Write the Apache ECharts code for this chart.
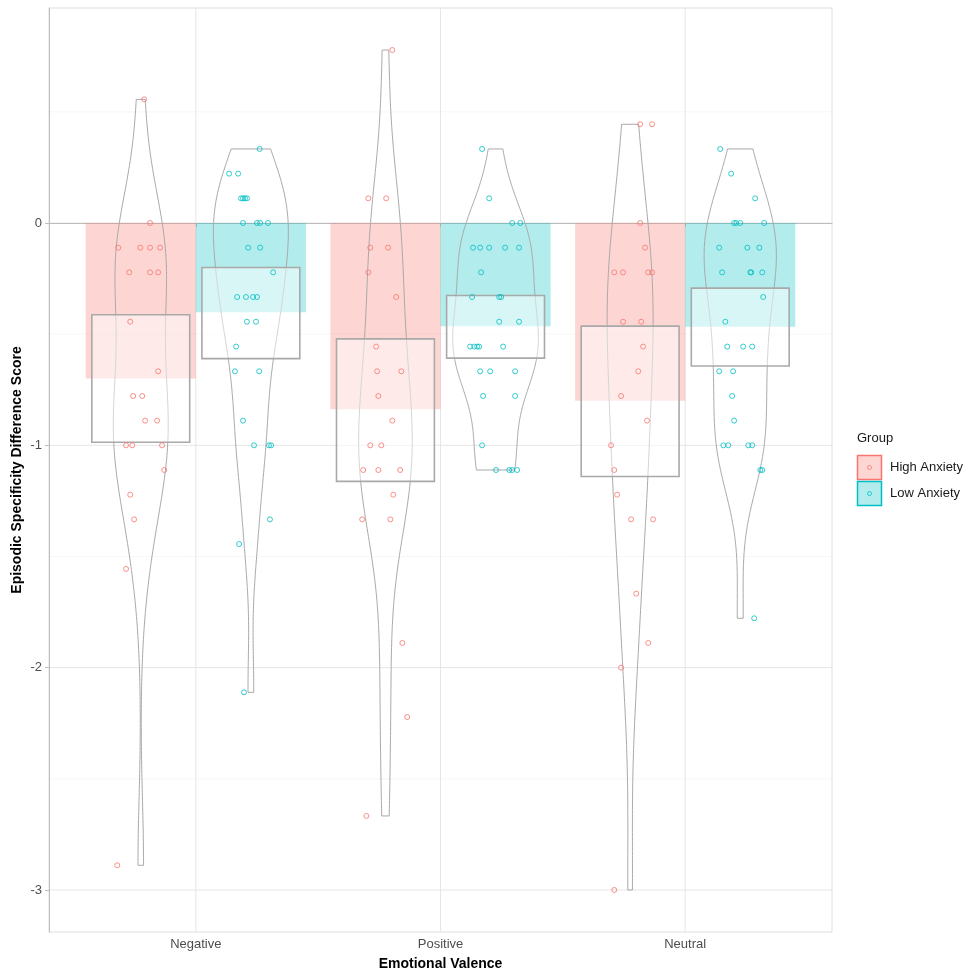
<!DOCTYPE html>
<html>
<head>
<meta charset="utf-8">
<script src="https://cdn.jsdelivr.net/npm/echarts@6/dist/echarts.min.js"></script>
<style>
html, body { margin: 0; padding: 0; background: #fff; }
#main { width: 969px; height: 970px; }
</style>
</head>
<body>
<div id="main"></div>
<script>
// valence categories and groups
var categories = ['Negative', 'Positive', 'Neutral'];
var groups = ['High Anxiety', 'Low Anxiety'];
var yTicks = [-3, -2, -1, 0];
var yMinor = [-2.5, -1.5, -0.5, 0.5];

// raw scores per cell (jitter = horizontal offset, in category units)
var negHighVals = [0.556, 0, -0.111, -0.111, -0.111, -0.111, -0.222, -0.222, -0.222, -0.444, -0.667, -0.778, -0.778, -0.889, -0.889, -1, -1, -1, -1.111, -1.222, -1.333, -1.556, -2.889];
var negHighJit = [0.014, 0.038, -0.092, -0.002, 0.038, 0.079, -0.047, 0.038, 0.071, -0.043, 0.071, -0.031, 0.006, 0.018, 0.067, -0.060, -0.035, 0.087, 0.096, -0.043, -0.027, -0.060, -0.096];

var negLowVals = [0.333, 0.222, 0.222, 0.111, 0.111, 0.111, 0.111, 0, 0, 0, 0, -0.111, -0.111, -0.222, -0.333, -0.333, -0.333, -0.333, -0.444, -0.444, -0.556, -0.667, -0.667, -0.889, -1, -1, -1, -1.333, -1.444, -2.111];
var negLowJit = [0.036, -0.089, -0.052, -0.040, -0.032, -0.024, -0.016, -0.032, 0.025, 0.038, 0.070, -0.011, 0.038, 0.091, -0.056, -0.020, 0.009, 0.025, -0.016, 0.021, -0.060, -0.065, 0.034, -0.032, 0.013, 0.074, 0.083, 0.078, -0.048, -0.028];

var posHighVals = [0.778, 0.111, 0.111, -0.111, -0.111, -0.222, -0.333, -0.556, -0.667, -0.667, -0.778, -0.889, -1, -1, -1.111, -1.111, -1.111, -1.222, -1.333, -1.333, -1.889, -2.222, -2.667];
var posHighJit = [0.028, -0.070, 0.003, -0.062, 0.011, -0.070, 0.044, -0.038, -0.034, 0.065, -0.029, 0.028, -0.062, -0.017, -0.091, -0.029, 0.060, 0.032, -0.095, 0.020, 0.069, 0.089, -0.078];

var posLowVals = [0.333, 0.111, 0, 0, -0.111, -0.111, -0.111, -0.111, -0.111, -0.222, -0.333, -0.333, -0.333, -0.444, -0.444, -0.556, -0.556, -0.556, -0.556, -0.556, -0.667, -0.667, -0.667, -0.778, -0.778, -1, -1.111, -1.111, -1.111, -1.111];
var posLowJit = [-0.055, -0.026, 0.068, 0.101, -0.092, -0.063, -0.026, 0.039, 0.096, -0.059, -0.096, 0.015, 0.023, 0.015, 0.096, -0.104, -0.087, -0.075, -0.067, 0.031, -0.063, -0.022, 0.080, -0.051, 0.080, -0.055, 0.002, 0.056, 0.068, 0.088];

var neuHighVals = [0.444, 0.444, 0, -0.111, -0.222, -0.222, -0.222, -0.222, -0.444, -0.444, -0.556, -0.667, -0.778, -0.889, -1, -1.111, -1.222, -1.333, -1.333, -1.667, -1.889, -2, -3];
var neuHighJit = [0.041, 0.090, 0.041, 0.061, -0.065, -0.029, 0.074, 0.090, -0.029, 0.045, 0.053, 0.033, -0.037, 0.069, -0.078, -0.065, -0.053, 0.004, 0.094, 0.025, 0.074, -0.037, -0.065];

var neuLowVals = [0.333, 0.222, 0.111, 0, 0, 0, 0, -0.111, -0.111, -0.111, -0.222, -0.222, -0.222, -0.222, -0.333, -0.444, -0.556, -0.556, -0.556, -0.667, -0.667, -0.778, -0.889, -1, -1, -1, -1, -1.111, -1.111, -1.778];
var neuLowJit = [-0.082, -0.037, 0.061, -0.025, -0.016, 0.0, 0.098, -0.086, 0.029, 0.078, -0.074, 0.041, 0.045, 0.090, 0.094, -0.061, -0.053, 0.012, 0.049, -0.086, -0.029, -0.033, -0.025, -0.069, -0.049, 0.033, 0.049, 0.082, 0.090, 0.057];

// cell order: NegHigh, NegLow, PosHigh, PosLow, NeuHigh, NeuLow
var barMeans = [-0.70, -0.402, -0.838, -0.464, -0.80, -0.467];
var ciHigh = [-0.413, -0.200, -0.521, -0.326, -0.464, -0.293];
var ciLow = [-0.986, -0.610, -1.162, -0.608, -1.140, -0.643];

var cellVals = [negHighVals, negLowVals, posHighVals, posLowVals, neuHighVals, neuLowVals];
var cellJit = [negHighJit, negLowJit, posHighJit, posLowJit, neuHighJit, neuLowJit];

var red = '#F8766D', cyan = '#00BFC4';
var fills = ['rgba(248,118,109,0.3)', 'rgba(0,191,196,0.3)'];
var lineGrey = '#a9a9a9';

function cellCenter(i) {
    return Math.floor(i / 2) + 1 + (i % 2 === 0 ? -0.225 : 0.225);
}

// gaussian kde like R density() with bw.nrd0, trimmed to data range
function quantile(s, p) {
    var h = (s.length - 1) * p, lo = Math.floor(h);
    return s[lo] + (h - lo) * ((s[Math.min(lo + 1, s.length - 1)]) - s[lo]);
}
function bwNrd0(v) {
    var n = v.length, m = 0, i;
    for (i = 0; i < n; i++) m += v[i];
    m /= n;
    var ss = 0;
    for (i = 0; i < n; i++) ss += (v[i] - m) * (v[i] - m);
    var sd = Math.sqrt(ss / (n - 1));
    var s = v.slice().sort(function (a, b) { return a - b; });
    var iqr = quantile(s, 0.75) - quantile(s, 0.25);
    var lo = Math.min(sd, iqr / 1.34);
    if (!(lo > 0)) lo = sd || 1;
    return 0.9 * lo * Math.pow(n, -0.2);
}
var violins = [];
var maxDens = 0;
cellVals.forEach(function (v) {
    var bw = bwNrd0(v);
    var lo = Math.min.apply(null, v), hi = Math.max.apply(null, v);
    var pts = [];
    for (var k = 0; k <= 200; k++) {
        var y = lo + (hi - lo) * k / 200;
        var d = 0;
        for (var j = 0; j < v.length; j++) {
            var z = (y - v[j]) / bw;
            d += Math.exp(-0.5 * z * z);
        }
        d = d / (v.length * bw * Math.sqrt(2 * Math.PI));
        if (d > maxDens) maxDens = d;
        pts.push([y, d]);
    }
    violins.push(pts);
});

var myChart = echarts.init(document.getElementById('main'));

var barData = [], boxData = [], violinData = [];
for (var i = 0; i < 6; i++) {
    barData.push([i, barMeans[i]]);
    boxData.push([i, ciLow[i], ciHigh[i]]);
    violinData.push([i]);
}
var pointData = [[], []];
cellVals.forEach(function (v, i) {
    v.forEach(function (val, j) {
        pointData[i % 2].push([cellCenter(i) + cellJit[i][j], val]);
    });
});

var option = {
    animation: false,
    backgroundColor: '#fff',
    grid: {
        left: 49, right: 137, top: 8, bottom: 38,
        containLabel: false, outerBoundsMode: 'none',
        show: true, borderColor: '#dedede', borderWidth: 1
    },
    xAxis: {
        type: 'value', min: 0.4, max: 3.6,
        name: 'Emotional Valence', nameLocation: 'middle', nameGap: 25, nameMoveOverlap: false,
        nameTextStyle: { fontFamily: 'Liberation Sans', fontWeight: 'bold', fontSize: 14, color: '#000' },
        axisLine: { show: true, lineStyle: { color: '#bdbdbd', width: 1 } },
        axisTick: { show: true, length: 4, customValues: [1, 2, 3], lineStyle: { color: '#bdbdbd' } },
        axisLabel: {
            customValues: [1, 2, 3], margin: 6,
            fontFamily: 'Liberation Sans', fontSize: 13, color: '#4d4d4d',
            formatter: function (v) { return categories[Math.round(v) - 1]; }
        },
        splitLine: { show: false }
    },
    yAxis: {
        type: 'value', min: -3.189, max: 0.967,
        name: 'Episodic Specificity Difference Score', nameLocation: 'middle', nameGap: 25, nameRotate: 90,
        nameMoveOverlap: false,
        nameTextStyle: { fontFamily: 'Liberation Sans', fontWeight: 'bold', fontSize: 14, color: '#000' },
        axisLine: { show: true, lineStyle: { color: '#bdbdbd', width: 1 } },
        axisTick: { show: true, length: 4, customValues: yTicks, lineStyle: { color: '#bdbdbd' } },
        axisLabel: {
            customValues: yTicks, margin: 7,
            fontFamily: 'Liberation Sans', fontSize: 13, color: '#4d4d4d'
        },
        splitLine: { show: false }
    },
    graphic: [
        { type: 'text', left: 857, top: 432, style: { text: 'Group', fontFamily: 'Liberation Sans', fontSize: 13, fill: '#1a1a1a' } },
        { type: 'rect', shape: { x: 857.5, y: 455.5, width: 24, height: 24 }, style: { fill: fills[0], stroke: red, lineWidth: 1.5 } },
        { type: 'circle', shape: { cx: 869.5, cy: 467.5, r: 2 }, style: { fill: 'none', stroke: red, lineWidth: 0.8 } },
        { type: 'rect', shape: { x: 857.5, y: 481.5, width: 24, height: 24 }, style: { fill: fills[1], stroke: cyan, lineWidth: 1.5 } },
        { type: 'circle', shape: { cx: 869.5, cy: 493.5, r: 2 }, style: { fill: 'none', stroke: cyan, lineWidth: 0.8 } },
        { type: 'text', left: 890, top: 461, style: { text: groups[0], fontFamily: 'Liberation Sans', fontSize: 13, fill: '#1a1a1a' } },
        { type: 'text', left: 890, top: 487, style: { text: groups[1], fontFamily: 'Liberation Sans', fontSize: 13, fill: '#1a1a1a' } }
    ],
    series: [
        {
            // panel grid lines
            type: 'custom', z: 0, silent: true,
            data: [[0]],
            renderItem: function (params, api) {
                var ch = [];
                yMinor.forEach(function (y) {
                    var a = api.coord([0.4, y]), b = api.coord([3.6, y]);
                    ch.push({ type: 'line', shape: { x1: a[0], y1: a[1], x2: b[0], y2: b[1] }, style: { stroke: '#f3f3f3', lineWidth: 0.7 } });
                });
                yTicks.forEach(function (y) {
                    var a = api.coord([0.4, y]), b = api.coord([3.6, y]);
                    ch.push({ type: 'line', shape: { x1: a[0], y1: a[1], x2: b[0], y2: b[1] }, style: { stroke: '#e6e6e6', lineWidth: 1 } });
                });
                [1, 2, 3].forEach(function (x) {
                    var a = api.coord([x, -3.189]), b = api.coord([x, 0.967]);
                    ch.push({ type: 'line', shape: { x1: a[0], y1: a[1], x2: b[0], y2: b[1] }, style: { stroke: '#e6e6e6', lineWidth: 1 } });
                });
                return { type: 'group', children: ch };
            }
        },
        {
            // mean bars
            type: 'custom', z: 1, silent: true,
            data: barData,
            renderItem: function (params, api) {
                var i = api.value(0), c = cellCenter(i);
                var p0 = api.coord([c - 0.225, api.value(1)]);
                var p1 = api.coord([c + 0.225, 0]);
                return {
                    type: 'rect',
                    shape: { x: p0[0], y: Math.min(p0[1], p1[1]), width: p1[0] - p0[0], height: Math.abs(p1[1] - p0[1]) },
                    style: { fill: fills[i % 2] }
                };
            }
        },
        {
            // violins
            type: 'custom', z: 2, silent: true,
            data: violinData,
            renderItem: function (params, api) {
                var i = api.value(0), c = cellCenter(i), pts = violins[i];
                var poly = [], k;
                for (k = 0; k < pts.length; k++) {
                    poly.push(api.coord([c + pts[k][1] / maxDens * 0.175, pts[k][0]]));
                }
                for (k = pts.length - 1; k >= 0; k--) {
                    poly.push(api.coord([c - pts[k][1] / maxDens * 0.175, pts[k][0]]));
                }
                return {
                    type: 'polygon',
                    shape: { points: poly },
                    style: { fill: 'none', stroke: lineGrey, lineWidth: 1 }
                };
            }
        },
        {
            // confidence boxes
            type: 'custom', z: 3, silent: true,
            data: boxData,
            renderItem: function (params, api) {
                var i = api.value(0), c = cellCenter(i);
                var p0 = api.coord([c - 0.2, api.value(2)]);
                var p1 = api.coord([c + 0.2, api.value(1)]);
                return {
                    type: 'rect',
                    shape: { x: p0[0], y: p0[1], width: p1[0] - p0[0], height: p1[1] - p0[1] },
                    style: { fill: 'rgba(255,255,255,0.5)', stroke: lineGrey, lineWidth: 1.6 }
                };
            }
        },
        {
            name: groups[0], type: 'scatter', z: 4, silent: true,
            symbol: 'circle', symbolSize: 5,
            itemStyle: { color: 'rgba(0,0,0,0)', borderColor: red, borderWidth: 1 },
            data: pointData[0]
        },
        {
            name: groups[1], type: 'scatter', z: 4, silent: true,
            symbol: 'circle', symbolSize: 5,
            itemStyle: { color: 'rgba(0,0,0,0)', borderColor: cyan, borderWidth: 1 },
            data: pointData[1]
        }
    ]
};

myChart.setOption(option);
</script>
</body>
</html>
